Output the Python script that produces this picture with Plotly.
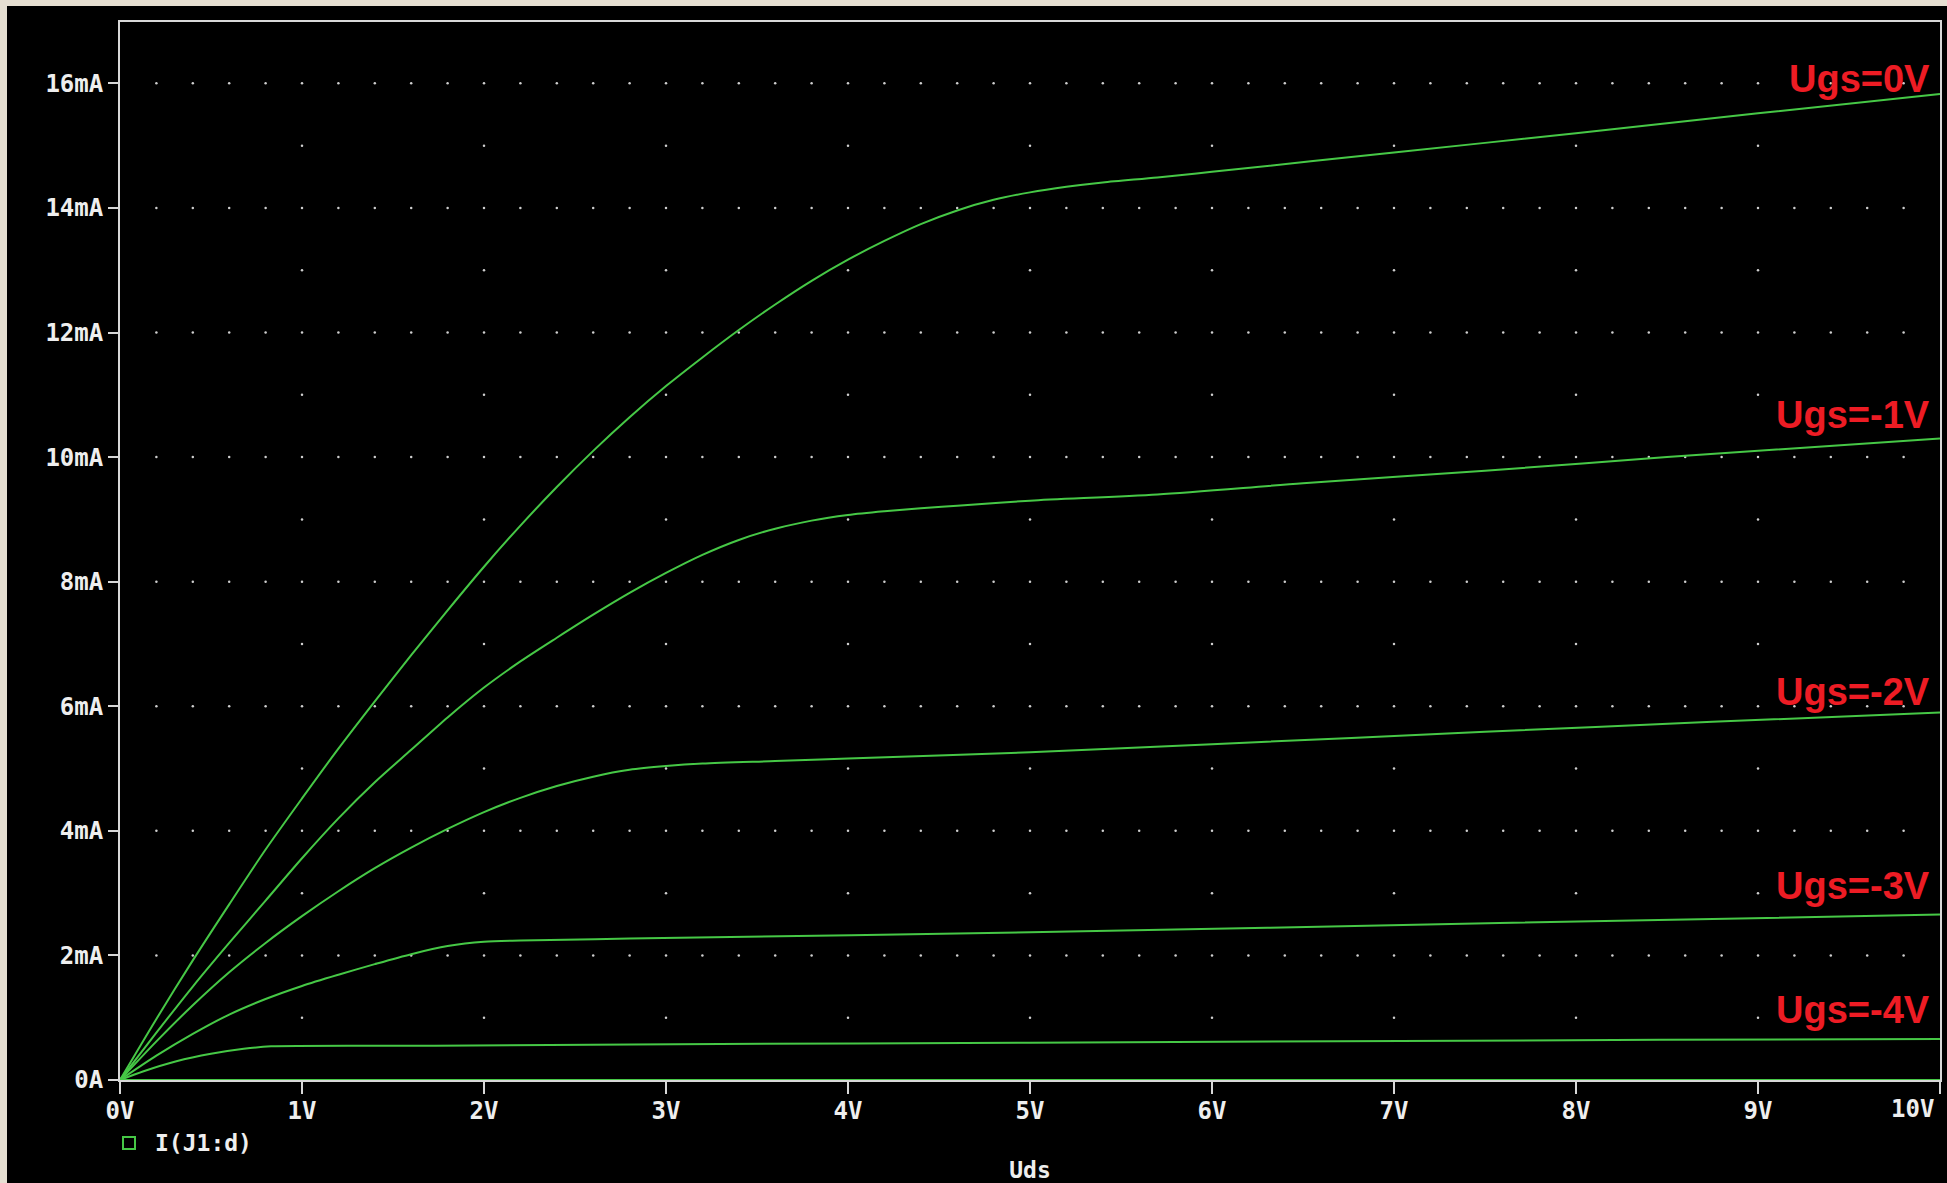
import numpy as np
import plotly.graph_objects as go

# ---------------- data (Uds in V, Id in mA) ----------------
uds_ugs0 = [0, 0.2, 0.4, 0.6, 0.8, 1.0, 1.2, 1.4, 1.6, 1.8, 2.0, 2.2, 2.4, 2.6, 2.8, 3.0,
            3.2, 3.4, 3.6, 3.8, 4.0, 4.2, 4.4, 4.6, 4.8, 5.0, 5.2, 5.4, 5.7, 6.0, 7.0, 8.0, 9.0, 10.0]
id_ugs0 = [0, 0.98, 1.92, 2.82, 3.70, 4.52, 5.32, 6.08, 6.82, 7.54, 8.24, 8.90, 9.52, 10.10, 10.64, 11.14,
           11.60, 12.04, 12.45, 12.83, 13.17, 13.47, 13.74, 13.96, 14.13, 14.25, 14.34, 14.41, 14.49,
           14.58, 14.89, 15.20, 15.52, 15.83]

uds_ugs1 = [0, 0.2, 0.4, 0.6, 0.8, 1.0, 1.2, 1.4, 1.6, 1.8, 2.0, 2.2, 2.4, 2.6, 2.8, 3.0,
            3.2, 3.4, 3.6, 3.8, 4.0, 4.2, 4.4, 4.6, 5.0, 5.7, 6.5, 7.5, 8.5, 10.0]
id_ugs1 = [0, 0.76, 1.5, 2.2, 2.88, 3.56, 4.2, 4.78, 5.3, 5.82, 6.3, 6.72, 7.1, 7.47, 7.82, 8.14,
           8.43, 8.67, 8.85, 8.98, 9.07, 9.13, 9.18, 9.22, 9.3, 9.40, 9.58, 9.78, 10.0, 10.30]

uds_ugs2 = [0, 0.2, 0.4, 0.6, 0.8, 1.0, 1.2, 1.4, 1.6, 1.8, 2.0, 2.2, 2.4, 2.6, 2.8, 3.0, 3.2,
            3.6, 4.0, 5.0, 6.0, 7.5, 8.75, 10.0]
id_ugs2 = [0, 0.62, 1.2, 1.73, 2.2, 2.63, 3.03, 3.4, 3.73, 4.03, 4.3, 4.53, 4.72, 4.87, 4.98, 5.04, 5.08,
           5.12, 5.16, 5.26, 5.39, 5.59, 5.75, 5.90]

uds_ugs3 = [0, 0.2, 0.4, 0.6, 0.8, 1.0, 1.2, 1.4, 1.6, 1.8, 2.0, 2.2, 2.8, 5.0, 7.58, 10.0]
id_ugs3 = [0, 0.39, 0.74, 1.05, 1.3, 1.51, 1.69, 1.86, 2.02, 2.15, 2.22, 2.24, 2.27, 2.37, 2.52, 2.655]

uds_ugs4 = [0, 0.13, 0.31, 0.5, 0.68, 0.83, 1.73, 2.81, 5.0, 8.46, 10.0]
id_ugs4 = [0, 0.14, 0.3, 0.42, 0.5, 0.54, 0.55, 0.57, 0.6, 0.645, 0.66]

uds_ugs5 = [0, 10.0]
id_ugs5 = [0, 0]

curve_names = ["Ugs=0V", "Ugs=-1V", "Ugs=-2V", "Ugs=-3V", "Ugs=-4V", "Ugs=-5V"]
curve_x = [uds_ugs0, uds_ugs1, uds_ugs2, uds_ugs3, uds_ugs4, uds_ugs5]
curve_y = [id_ugs0, id_ugs1, id_ugs2, id_ugs3, id_ugs4, id_ugs5]

x_tickvals = list(range(0, 11))
x_ticktext = ["0V", "1V", "2V", "3V", "4V", "5V", "6V", "7V", "8V", "9V", ""]
x_last_label = "10V"
y_tickvals = [0, 2, 4, 6, 8, 10, 12, 14, 16]
y_ticktext = ["0A", "2mA", "4mA", "6mA", "8mA", "10mA", "12mA", "14mA", "16mA"]

label_texts = ["Ugs=0V", "Ugs=-1V", "Ugs=-2V", "Ugs=-3V", "Ugs=-4V"]
label_y = [16.07, 10.68, 6.23, 3.11, 1.12]

x_title = "Uds"
legend_text = "I(J1:d)"

# ---------------- styling ----------------
GREEN = "#46c846"
RED = "#ed1c24"
WHITE = "#eeeeee"
AXIS = "#d8d8d8"
MONO = "DejaVu Sans Mono, Liberation Mono, monospace"
TICKFONT = dict(family=MONO, size=24, color=WHITE, weight="bold")

fig = go.Figure()

# dotted grid (decoration)
gx, gy = [], []
for yv in range(2, 17, 2):
    for k in range(1, 50):
        gx.append(k * 0.2)
        gy.append(yv)
for xv in range(1, 10):
    for yv in range(1, 17):
        if yv % 2 == 1:
            gx.append(xv)
            gy.append(yv)
fig.add_trace(go.Scatter(x=gx, y=gy, mode="markers",
                         marker=dict(size=2.5, color="#cfcfcf", line=dict(width=0)),
                         hoverinfo="skip", showlegend=False, name="grid"))

for name, xs, ys in zip(curve_names, curve_x, curve_y):
    fig.add_trace(go.Scatter(x=xs, y=ys, mode="lines", name=name,
                             line=dict(color=GREEN, width=2, shape="spline", smoothing=0.8),
                             showlegend=False))

annotations = []
for t, yv in zip(label_texts, label_y):
    annotations.append(dict(x=0.9958, xref="paper", y=yv, yref="y", text=t, showarrow=False,
                            xanchor="right", yanchor="middle",
                            font=dict(family="Liberation Sans, Arial, sans-serif", size=38,
                                      color=RED, weight="bold")))
# last x tick label, kept inside the frame as in the original
annotations.append(dict(x=(1936 - 120) / 1820, xref="paper", y=(1080 - 1109) / 1058, yref="paper",
                        text=x_last_label, showarrow=False, xanchor="right", yanchor="middle",
                        font=TICKFONT))
annotations.append(dict(x=(153 - 120) / 1820, xref="paper", y=(1080 - 1143) / 1058, yref="paper",
                        text=legend_text, showarrow=False, xanchor="left", yanchor="middle",
                        font=dict(family=MONO, size=23, color=WHITE, weight="bold")))

shapes = [
    # black panel
    dict(type="rect", xref="paper", yref="paper", x0=(7 - 120) / 1820, x1=1.01,
         y0=-0.11, y1=(1080 - 6) / 1058, fillcolor="black", line=dict(width=0), layer="below"),
    # legend symbol
    dict(type="rect", xref="paper", yref="paper",
         x0=(123 - 120) / 1820, x1=(135 - 120) / 1820,
         y0=(1080 - 1149) / 1058, y1=(1080 - 1137) / 1058,
         line=dict(color=GREEN, width=2), fillcolor="rgba(0,0,0,0)"),
]

fig.update_layout(
    width=1947, height=1183,
    margin=dict(l=120, r=7, t=22, b=103, pad=0),
    paper_bgcolor="#e6dfd2",
    plot_bgcolor="black",
    showlegend=False,
    annotations=annotations,
    shapes=shapes,
    xaxis=dict(range=[0, 10], tickvals=x_tickvals, ticktext=x_ticktext,
               showgrid=False, zeroline=False, showline=True, mirror=True,
               linecolor=AXIS, linewidth=2, ticks="outside", ticklen=12, tickwidth=2,
               tickcolor=AXIS, tickfont=TICKFONT,
               ticklabelstandoff=-4,
               title=dict(text=x_title, font=dict(family=MONO, size=23, color=WHITE, weight="bold"),
                          standoff=38),
               automargin=False),
    yaxis=dict(range=[0, 16.985], tickvals=y_tickvals, ticktext=y_ticktext,
               showgrid=False, zeroline=False, showline=True, mirror=True,
               linecolor=AXIS, linewidth=2, ticks="outside", ticklen=10, tickwidth=2,
               tickcolor=AXIS, tickfont=TICKFONT,
               automargin=False),
)

fig.write_html("out.html", config={"displayModeBar": False},
               post_script="document.body.style.margin='0';document.body.style.overflow='hidden';")
